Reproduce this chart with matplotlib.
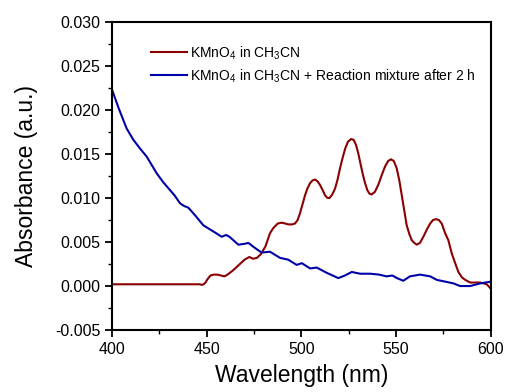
import matplotlib
matplotlib.use("Agg")
import matplotlib.pyplot as plt
from matplotlib.ticker import MultipleLocator

plt.rcParams['font.family'] = ['Liberation Sans', 'DejaVu Sans']
plt.rcParams['mathtext.fontset'] = 'custom'
plt.rcParams['mathtext.rm'] = 'Liberation Sans'
plt.rcParams['mathtext.it'] = 'Liberation Sans:italic'

# KMnO4 in CH3CN
wl_red = [400, 420, 441, 446.5, 447.5, 449, 450.5, 452, 453.8, 455.5, 457.5, 459.3,
          461, 464, 467, 470, 472.5, 474.5, 476.5, 478.5, 481, 483.4, 485.2, 487.5,
          489.6, 491.5, 493.1, 495, 496.6, 498, 499.3, 500.6, 501.9, 503.2, 504.6,
          505.9, 507.2, 508.5, 509.8, 511.2, 512.5, 513.8, 514.8, 516.3, 517.8,
          519.1, 520.4, 521.8, 523.1, 524.6, 526.2, 527.6, 528.9, 530, 531, 532.3,
          533.6, 534.8, 535.9, 537.1, 538.8, 540.6, 542.4, 544.2, 545.8, 547.3,
          548.8, 550.3, 551.7, 553, 554.3, 555.6, 557, 558.3, 559.6, 560.9, 562.6,
          564.4, 566.2, 568, 569.5, 571, 572.6, 574.1, 575.9, 577.6, 579.4, 581.2,
          582.9, 584.7, 586.5, 589.1, 591.5, 594.4, 597.9, 600]
abs_red = [0.0002, 0.0002, 0.0002, 0.0002, 0.00012, 0.0003, 0.0008, 0.0012, 0.0013,
           0.0013, 0.0012, 0.0011, 0.0013, 0.0018, 0.0024, 0.0030, 0.0033, 0.0031,
           0.0032, 0.0036, 0.0045, 0.0060, 0.0066, 0.0071, 0.0072, 0.0071, 0.0070,
           0.0070, 0.0071, 0.0075, 0.0083, 0.0093, 0.0103, 0.0111, 0.0117, 0.0120,
           0.0121, 0.0119, 0.0115, 0.0109, 0.0103, 0.0100, 0.0100, 0.0104, 0.0111,
           0.0121, 0.0134, 0.0146, 0.0156, 0.0164, 0.0167, 0.0166, 0.0160, 0.0151,
           0.0141, 0.0128, 0.0117, 0.0109, 0.0105, 0.0104, 0.0107, 0.0115, 0.0126,
           0.0136, 0.0142, 0.0144, 0.0142, 0.0134, 0.0120, 0.0103, 0.0086, 0.0069,
           0.0059, 0.0052, 0.0049, 0.0047, 0.0049, 0.0056, 0.0064, 0.0071, 0.0075,
           0.0076, 0.0075, 0.0071, 0.0060, 0.0052, 0.0037, 0.0026, 0.0016, 0.0010,
           0.0007, 0.0004, 0.0004, 0.0004, 0.0002, -0.0003]

# KMnO4 in CH3CN + reaction mixture after 2 h
wl_blue = [400, 403.5, 407.7, 411.3, 414.5, 418.3, 423.6, 427, 430.6, 433, 435.9, 438,
           440.3, 444, 448.2, 453.5, 457.9, 460.2, 462, 466.7, 470, 472, 475, 479,
           483.4, 488.7, 493, 497.5, 500.2, 504.6, 508.1, 513.4, 519.5, 523, 526.6,
           531, 536.4, 541, 545, 548, 550.5, 553.8, 557.3, 562.7, 565.3, 568,
           571.5, 576, 580.3, 583.8, 589.1, 594.4, 600]
abs_blue = [0.0223, 0.0202, 0.0179, 0.0166, 0.0157, 0.0147, 0.0128, 0.0118, 0.0109,
            0.0103, 0.0094, 0.0091, 0.0089, 0.0080, 0.0069, 0.0062, 0.0056, 0.0058,
            0.0056, 0.0047, 0.0048, 0.0049, 0.0044, 0.0038, 0.0039, 0.0032, 0.0030,
            0.0024, 0.0026, 0.0020, 0.0021, 0.0015, 0.0009, 0.0012, 0.0016, 0.0014,
            0.0014, 0.0013, 0.0011, 0.0012, 0.0009, 0.0006, 0.0011, 0.0013, 0.0012,
            0.0011, 0.0007, 0.0005, 0.0003, 0.0000, 0.0000, 0.0003, 0.0005]

fig = plt.figure(figsize=(5.07, 3.92), dpi=100)
ax = fig.add_axes([0.221, 0.158, 0.747, 0.786])

ax.plot(wl_red, abs_red, color='#8b0000', lw=1.5,
        label='KMnO$_4$ in CH$_3$CN')
ax.plot(wl_blue, abs_blue, color='#0000a8', lw=1.5,
        label='KMnO$_4$ in CH$_3$CN + Reaction mixture after 2 h')

ax.set_xlim(400, 600)
ax.set_ylim(-0.005, 0.030)
ax.xaxis.set_major_locator(MultipleLocator(50))
ax.xaxis.set_minor_locator(MultipleLocator(25))
ax.yaxis.set_major_locator(MultipleLocator(0.005))
ax.yaxis.set_minor_locator(MultipleLocator(0.0025))
ax.yaxis.set_major_formatter(plt.FormatStrFormatter('%.3f'))

ax.tick_params(which='major', direction='out', length=5, width=1.3, labelsize=11.5)
ax.tick_params(which='minor', direction='out', length=3, width=1.0)
for s in ax.spines.values():
    s.set_linewidth(1.5)

ax.set_xlabel('Wavelength (nm)', fontsize=16.5, labelpad=5)
ax.set_ylabel('Absorbance (a.u.)', fontsize=16.5, labelpad=12)

ax.legend(loc='upper left', bbox_to_anchor=(0.07, 0.968), frameon=False,
          fontsize=10, handlelength=2.6, handletextpad=0.2, labelspacing=0.4)

fig.savefig('out.png', dpi=100)
